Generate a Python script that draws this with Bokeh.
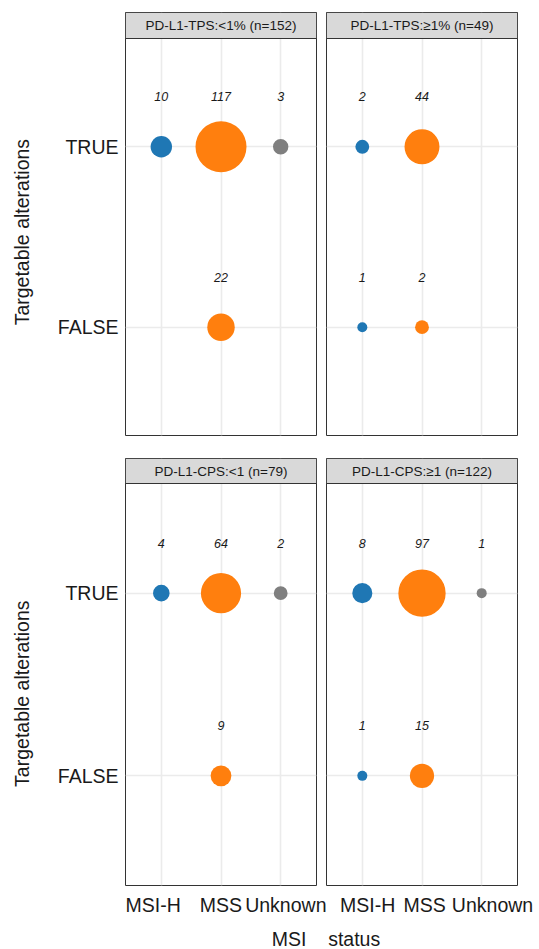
import math
from bokeh.plotting import figure
from bokeh.models import Range1d, FixedTicker, BoxAnnotation, Label, ColumnDataSource
from bokeh.layouts import column, row
from bokeh.embed import file_html
from bokeh.resources import INLINE
from bokeh.core.properties import value

# ---------------- data ----------------
msi_levels = ["MSI-H", "MSS", "Unknown"]
target_levels = ["FALSE", "TRUE"]
msi_colors = ["#1F77B4", "#FF7F0E", "#7F7F7F"]

panel_titles = ["PD-L1-TPS:<1% (n=152)", "PD-L1-TPS:\u22651% (n=49)",
                "PD-L1-CPS:<1 (n=79)", "PD-L1-CPS:\u22651 (n=122)"]

tps_lt1_msi = ["MSI-H", "MSS", "Unknown", "MSS"]
tps_lt1_target = ["TRUE", "TRUE", "TRUE", "FALSE"]
tps_lt1_n = [10, 117, 3, 22]

tps_ge1_msi = ["MSI-H", "MSS", "MSI-H", "MSS"]
tps_ge1_target = ["TRUE", "TRUE", "FALSE", "FALSE"]
tps_ge1_n = [2, 44, 1, 2]

cps_lt1_msi = ["MSI-H", "MSS", "Unknown", "MSS"]
cps_lt1_target = ["TRUE", "TRUE", "TRUE", "FALSE"]
cps_lt1_n = [4, 64, 2, 9]

cps_ge1_msi = ["MSI-H", "MSS", "Unknown", "MSI-H", "MSS"]
cps_ge1_target = ["TRUE", "TRUE", "TRUE", "FALSE", "FALSE"]
cps_ge1_n = [8, 97, 1, 1, 15]

y_title = "Targetable alterations"
x_title = "MSI\u00a0\u00a0\u00a0\u00a0status"

# ---------------- styling ----------------
FONT = "Liberation Sans"
TXT = "#1a1a1a"
NB = "\u00a0"
all_n = tps_lt1_n + tps_ge1_n + cps_lt1_n + cps_ge1_n
N_MIN, N_MAX = min(all_n), max(all_n)
D_MIN, D_MAX = 10.0, 51.0


def size_scale(n):
    # ggplot-like area scale shared across facets
    return D_MIN + (D_MAX - D_MIN) * math.sqrt((n - N_MIN) / (N_MAX - N_MIN))


def make_panel(title, msi, target, n, left, right, top, bottom, frame_w, panel_h, strip_h,
               show_x, show_y, ytitle_pad=0, x_pad=((0, 0), (0, 0), (0, 0))):
    px_per_unit = panel_h / 2.2
    y_top = 2.6 + strip_h / px_per_unit
    p = figure(width=left + frame_w + right, height=top + panel_h + strip_h + bottom,
               x_range=Range1d(0.4, 3.6), y_range=Range1d(0.4, y_top),
               output_backend="svg", toolbar_location=None,
               min_border_left=left, min_border_right=right,
               min_border_top=top, min_border_bottom=bottom)
    p.background_fill_color = "white"
    p.border_fill_color = "white"
    p.outline_line_color = "#333333"
    p.outline_line_width = 1

    xs = [msi_levels.index(m) + 1 for m in msi]
    ys = [target_levels.index(t) + 1 for t in target]
    src = ColumnDataSource(dict(
        x=xs, y=ys, n=n, label=[str(v) for v in n],
        size=[size_scale(v) for v in n],
        color=[msi_colors[msi_levels.index(m)] for m in msi],
    ))

    # grid
    p.xgrid.ticker = FixedTicker(ticks=[1, 2, 3])
    p.ygrid.ticker = FixedTicker(ticks=[1, 2])
    for g in (p.xgrid, p.ygrid):
        g.grid_line_color = "#EBEBEB"
        g.grid_line_width = 1.6
        g.minor_grid_line_color = None

    p.scatter("x", "y", source=src, size="size", fill_color="color",
              line_color=None, marker="circle")
    p.text("x", "y", text="label", source=src, y_offset=-50,
           text_align="center", text_baseline="middle",
           text_font=value(FONT), text_font_style="italic",
           text_font_size="12.5px", text_color=TXT)

    # strip
    strip = BoxAnnotation(bottom=2.6, top=y_top, fill_color="#D9D9D9", fill_alpha=1.0,
                          line_color="#333333", line_width=1, line_alpha=1.0)
    p.add_layout(strip)
    p.add_layout(Label(x=2, y=(2.6 + y_top) / 2, text=title, text_align="center",
                       text_baseline="middle", text_font=FONT, text_font_size="13.5px",
                       text_color=TXT))

    # axes
    for ax in (p.xaxis[0], p.yaxis[0]):
        ax.axis_line_color = None
        ax.major_tick_line_color = None
        ax.minor_tick_line_color = None
        ax.major_tick_out = 0
        ax.major_tick_in = 0
        ax.minor_tick_out = 0
        ax.minor_tick_in = 0
        ax.major_label_text_font = FONT
        ax.major_label_text_font_size = "19.5px"
        ax.major_label_text_color = TXT
    p.xaxis.ticker = FixedTicker(ticks=[1, 2, 3])
    x_lbl = [NB * a + m + NB * b for m, (a, b) in zip(msi_levels, x_pad)]
    p.xaxis.major_label_overrides = {i + 1: m for i, m in enumerate(x_lbl)}
    p.xaxis.major_label_standoff = 8
    p.yaxis.ticker = FixedTicker(ticks=[1, 2])
    p.yaxis.major_label_overrides = {i + 1: t for i, t in enumerate(target_levels)}
    p.yaxis.major_label_standoff = 7
    if show_y:
        p.yaxis.axis_label = y_title + NB * ytitle_pad
        p.yaxis.axis_label_text_font = FONT
        p.yaxis.axis_label_text_font_size = "19.5px"
        p.yaxis.axis_label_text_font_style = "normal"
        p.yaxis.axis_label_text_color = TXT
        p.yaxis.axis_label_standoff = 22
    else:
        p.yaxis.visible = False
    if not show_x:
        p.xaxis.visible = False
    return p


tl = make_panel(panel_titles[0], tps_lt1_msi, tps_lt1_target, tps_lt1_n,
                125, 10, 12, 12, 191, 397, 26, False, True, ytitle_pad=3)
tr = make_panel(panel_titles[1], tps_ge1_msi, tps_ge1_target, tps_ge1_n,
                0, 17, 12, 12, 191, 397, 26, False, False)
bl = make_panel(panel_titles[2], cps_lt1_msi, cps_lt1_target, cps_lt1_n,
                125, 10, 11, 42, 191, 402, 25, True, True, ytitle_pad=8,
                x_pad=((0, 3), (0, 0), (2, 0)))
br = make_panel(panel_titles[3], cps_ge1_msi, cps_ge1_target, cps_ge1_n,
                0, 17, 11, 42, 191, 402, 25, True, False,
                x_pad=((2, 0), (1, 0), (4, 0)))

# shared x-axis title
TW, TH = 534, 22
xt = figure(width=TW, height=TH, x_range=Range1d(0, TW), y_range=Range1d(0, TH),
            output_backend="svg", toolbar_location=None,
            min_border_left=0, min_border_right=0, min_border_top=0, min_border_bottom=0)
xt.axis.visible = False
xt.grid.visible = False
xt.outline_line_color = None
xt.background_fill_color = "white"
xt.border_fill_color = "white"
xt.add_layout(Label(x=325.5, y=11, text=x_title, text_align="center", text_baseline="middle",
                    text_font=FONT, text_font_size="19.5px", text_color=TXT))

layout = column(row(tl, tr), row(bl, br), xt)

open("out.html", "w").write(file_html(layout, INLINE))
